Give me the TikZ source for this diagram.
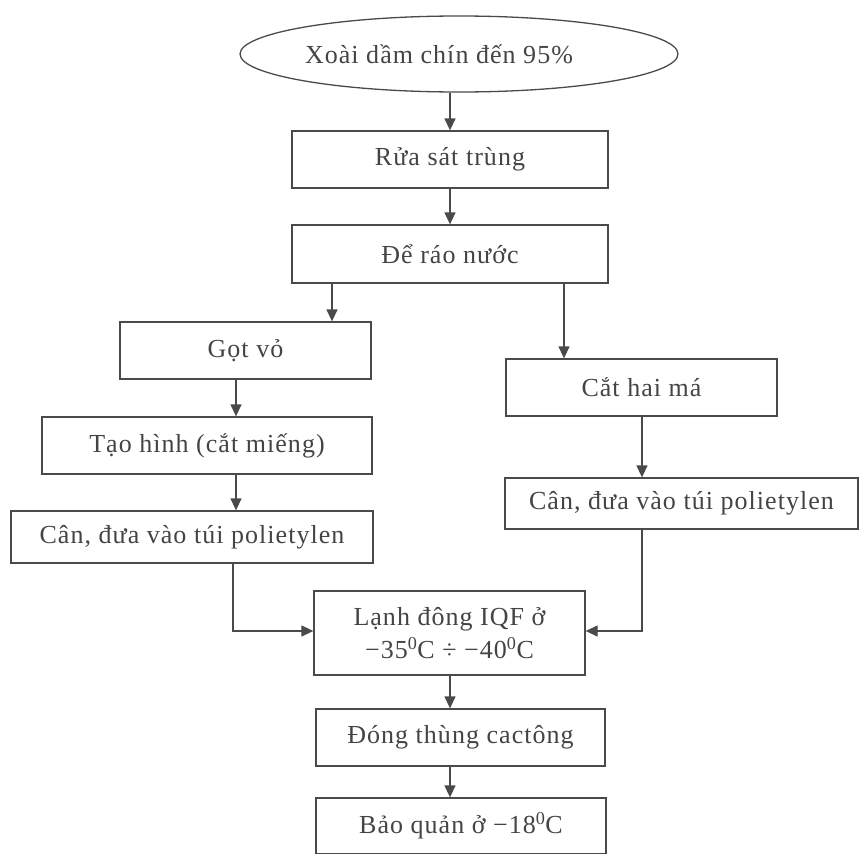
\documentclass[tikz,border=0pt]{standalone}
\usepackage{fontspec}
\setmainfont{Liberation Serif}[LetterSpace=4]
\usetikzlibrary{arrows.meta,shapes.geometric,calc}
\definecolor{ink}{HTML}{4A4A4A}
\definecolor{txt}{HTML}{444444}
\begin{document}
\begin{tikzpicture}[x=1pt,y=-1pt,
  box/.style={draw=ink,line width=1.3pt,rectangle,inner sep=0pt,align=center,
    text=txt,font=\fontsize{26}{33}\selectfont},
  oval/.style={draw=ink,line width=1.3pt,ellipse,inner sep=0pt},
  lbl/.style={inner sep=0pt,text=txt,font=\fontsize{26}{33}\selectfont},
  arr/.style={draw=ink,line width=1.3pt,-{Triangle[length=12pt,width=11pt]}}]
\useasboundingbox (0,0) rectangle (860,854);
\clip (0,0) rectangle (860,854);

% process steps
\node[oval,minimum width=438,minimum height=76] (e) at (459,54) {};
\node[lbl] (et) at (439,54) {Xoài dầm chín đến 95\%};
\node[box,minimum width=316,minimum height=57] (r) at (450,159.5) {Rửa sát trùng};
\node[box,minimum width=316,minimum height=58] (d) at (450,254) {Để ráo nước};
\node[box,minimum width=251,minimum height=57] (g) at (245.5,350.5) {Gọt vỏ};
\node[box,minimum width=330,minimum height=57] (t) at (207,445.5) {Tạo hình (cắt miếng)};
\node[box,minimum width=362,minimum height=52] (c1) at (192,537) {Cân, đưa vào túi polietylen};
\node[box,minimum width=271,minimum height=57] (m) at (641.5,387.5) {Cắt hai má};
\node[box,minimum width=353,minimum height=51] (c2) at (681.5,503.5) {Cân, đưa vào túi polietylen};
\node[box,minimum width=271,minimum height=84] (l) at (449.5,633) {Lạnh đông IQF ở\\−35\textsuperscript{0}C ÷ −40\textsuperscript{0}C};
\node[box,minimum width=289,minimum height=57] (dt) at (460.5,737.5) {Đóng thùng cactông};
\node[box,minimum width=290,minimum height=56] (b) at (461,826) {Bảo quản ở −18\textsuperscript{0}C};

% connectors
\draw[arr] (r.north |- e.south) -- (r.north);
\draw[arr] (r.south) -- (d.north);
\draw[arr] (d.south -| 332,0) -- (g.north -| 332,0);
\draw[arr] (d.south -| 564,0) -- (m.north -| 564,0);
\draw[arr] (g.south -| 236,0) -- (t.north -| 236,0);
\draw[arr] (t.south -| 236,0) -- (c1.north -| 236,0);
\draw[arr] (m.south -| 642,0) -- (c2.north -| 642,0);
\draw[arr] (c1.south -| 233,0) -- (233,631) -- (l.west |- 0,631);
\draw[arr] (c2.south -| 642,0) -- (642,631) -- (l.east |- 0,631);
\draw[arr] (l.south -| 450,0) -- (dt.north -| 450,0);
\draw[arr] (dt.south -| 450,0) -- (b.north -| 450,0);
\end{tikzpicture}
\end{document}
